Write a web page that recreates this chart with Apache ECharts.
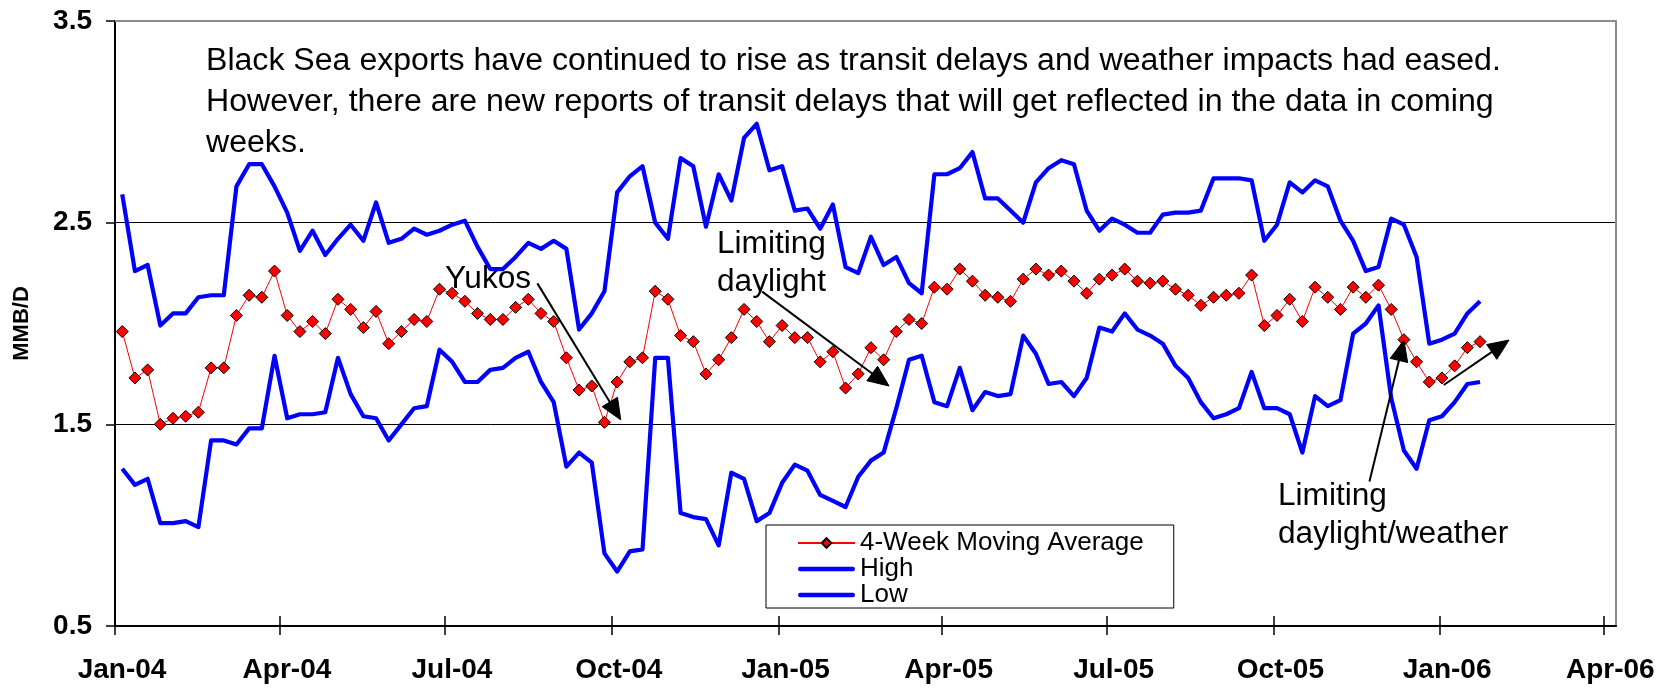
<!DOCTYPE html>
<html>
<head>
<meta charset="utf-8">
<script src="https://cdn.jsdelivr.net/npm/echarts@6/dist/echarts.min.js"></script>
<style>
html,body{margin:0;padding:0;background:#fff;}
#chart{width:1671px;height:690px;}
</style>
</head>
<body>
<div id="chart"></div>
<script>
// ---------- data ----------
const weekDates = [
'2004-01-05','2004-01-12','2004-01-19','2004-01-26','2004-02-02','2004-02-09','2004-02-16','2004-02-23',
'2004-03-01','2004-03-08','2004-03-15','2004-03-22','2004-03-29','2004-04-05','2004-04-12','2004-04-19',
'2004-04-26','2004-05-03','2004-05-10','2004-05-17','2004-05-24','2004-05-31','2004-06-07','2004-06-14',
'2004-06-21','2004-06-28','2004-07-05','2004-07-12','2004-07-19','2004-07-26','2004-08-02','2004-08-09',
'2004-08-16','2004-08-23','2004-08-30','2004-09-06','2004-09-13','2004-09-20','2004-09-27','2004-10-04',
'2004-10-11','2004-10-18','2004-10-25','2004-11-01','2004-11-08','2004-11-15','2004-11-22','2004-11-29',
'2004-12-06','2004-12-13','2004-12-20','2004-12-27','2005-01-03','2005-01-10','2005-01-17','2005-01-24',
'2005-01-31','2005-02-07','2005-02-14','2005-02-21','2005-02-28','2005-03-07','2005-03-14','2005-03-21',
'2005-03-28','2005-04-04','2005-04-11','2005-04-18','2005-04-25','2005-05-02','2005-05-09','2005-05-16',
'2005-05-23','2005-05-30','2005-06-06','2005-06-13','2005-06-20','2005-06-27','2005-07-04','2005-07-11',
'2005-07-18','2005-07-25','2005-08-01','2005-08-08','2005-08-15','2005-08-22','2005-08-29','2005-09-05',
'2005-09-12','2005-09-19','2005-09-26','2005-10-03','2005-10-10','2005-10-17','2005-10-24','2005-10-31',
'2005-11-07','2005-11-14','2005-11-21','2005-11-28','2005-12-05','2005-12-12','2005-12-19','2005-12-26',
'2006-01-02','2006-01-09','2006-01-16','2006-01-23'
];

const movingAverage = [
1.96,1.73,1.77,1.50,1.53,1.54,1.56,1.78,1.78,2.04,
2.14,2.13,2.26,2.04,1.96,2.01,1.95,2.12,2.07,1.98,
2.06,1.90,1.96,2.02,2.01,2.17,2.15,2.11,2.05,2.02,
2.02,2.08,2.12,2.05,2.01,1.83,1.67,1.69,1.51,1.71,
1.81,1.83,2.16,2.12,1.94,1.91,1.75,1.82,1.93,2.07,
2.01,1.91,1.99,1.93,1.93,1.81,1.86,1.68,1.75,1.88,
1.82,1.96,2.02,2.00,2.18,2.17,2.27,2.21,2.14,2.13,
2.11,2.22,2.27,2.24,2.26,2.21,2.15,2.22,2.24,2.27,
2.21,2.20,2.21,2.17,2.14,2.09,2.13,2.14,2.15,2.24,
1.99,2.04,2.12,2.01,2.18,2.13,2.07,2.18,2.13,2.19,
2.07,1.92,1.81,1.71,1.73,1.79,1.88,1.91
];

const highValues = [
2.64,2.26,2.29,1.99,2.05,2.05,2.13,2.14,2.14,2.68,
2.79,2.79,2.68,2.55,2.36,2.46,2.34,2.42,2.49,2.41,
2.60,2.40,2.42,2.47,2.44,2.46,2.49,2.51,2.38,2.27,
2.27,2.33,2.40,2.37,2.41,2.37,1.97,2.05,2.16,2.65,
2.73,2.78,2.50,2.42,2.82,2.78,2.48,2.74,2.61,2.92,
2.99,2.76,2.78,2.56,2.57,2.47,2.59,2.28,2.25,2.43,
2.29,2.33,2.20,2.15,2.74,2.74,2.77,2.85,2.62,2.62,
2.56,2.50,2.70,2.77,2.81,2.79,2.56,2.46,2.52,2.49,
2.45,2.45,2.54,2.55,2.55,2.56,2.72,2.72,2.72,2.71,
2.41,2.49,2.70,2.65,2.71,2.68,2.51,2.41,2.26,2.28,
2.52,2.49,2.33,1.90,1.92,1.95,2.05,2.11
];

const lowValues = [
1.28,1.20,1.23,1.01,1.01,1.02,0.99,1.42,1.42,1.40,
1.48,1.48,1.84,1.53,1.55,1.55,1.56,1.83,1.65,1.54,
1.53,1.42,1.50,1.58,1.59,1.87,1.81,1.71,1.71,1.77,
1.78,1.83,1.86,1.71,1.61,1.29,1.36,1.31,0.86,0.77,
0.87,0.88,1.83,1.83,1.06,1.04,1.03,0.90,1.26,1.23,
1.02,1.06,1.21,1.30,1.27,1.15,1.12,1.09,1.24,1.32,
1.36,1.58,1.82,1.84,1.61,1.59,1.78,1.57,1.66,1.64,
1.65,1.94,1.85,1.70,1.71,1.64,1.73,1.98,1.96,2.05,
1.97,1.94,1.90,1.79,1.73,1.61,1.53,1.55,1.58,1.76,
1.58,1.58,1.55,1.36,1.64,1.59,1.62,1.95,2.00,2.09,
1.63,1.37,1.28,1.52,1.54,1.61,1.70,1.71
];

const seriesNames = ['4-Week Moving Average', 'High', 'Low'];
const tickDates = ['2004-01-01','2004-04-01','2004-07-01','2004-10-01','2005-01-01',
                   '2005-04-01','2005-07-01','2005-10-01','2006-01-01','2006-04-01'];
const tickLabels = ['Jan-04','Apr-04','Jul-04','Oct-04','Jan-05','Apr-05','Jul-05','Oct-05','Jan-06','Apr-06'];
const axisStart = '2004-01-01';
const axisEnd = '2006-04-08';
const yMin = 0.5, yMax = 3.5, yStep = 1;
const yAxisTitle = 'MMB/D';

const noteLines = [
  'Black Sea exports have continued to rise as transit delays and weather impacts had eased.',
  'However, there are new reports of transit delays that will get reflected in the data in coming',
  'weeks.'
];
// annotation arrows anchored in data space: [date, value]
const annotationArrows = [
  { from: ['2004-08-21', 2.199], to: ['2004-10-06', 1.522] },
  { from: ['2004-12-23', 2.158], to: ['2005-03-03', 1.690] },
  { from: ['2005-11-23', 1.216], to: ['2005-12-12', 1.918] },
  { from: ['2006-01-03', 1.695], to: ['2006-02-08', 1.918] }
];
const annotationLabels = [
  { text: 'Yukos', x: 445, baseline: 290, lineHeight: 31 },
  { text: 'Limiting\ndaylight', x: 717, baseline: 255, lineHeight: 38 },
  { text: 'Limiting\ndaylight/weather', x: 1278, baseline: 507, lineHeight: 38 }
];

// ---------- helpers ----------
function toTime(s) {
  const p = s.split('-').map(Number);
  return Date.UTC(p[0], p[1] - 1, p[2]);
}
const weekTimes = weekDates.map(toTime);
const tickTimes = tickDates.map(toTime);
const FONT = '"Liberation Sans", Arial, Helvetica, sans-serif';
const THICK_LINE_ICON = 'path://M2,0 L55,0 A2.25,2.25 0 0 1 55,4.5 L2,4.5 A2.25,2.25 0 0 1 2,0 Z';

function tickLabelFor(v) {
  let best = -1, bestD = Infinity;
  tickTimes.forEach((t, i) => { const d = Math.abs(t - v); if (d < bestD) { bestD = d; best = i; } });
  return bestD < 86400000 ? tickLabels[best] : '';
}

const chart = echarts.init(document.getElementById('chart'), null, { renderer: 'canvas' });

const xMin = toTime(axisStart), xMax = toTime(axisEnd);

const option = {
  animation: false,
  backgroundColor: '#ffffff',
  textStyle: { fontFamily: FONT, color: '#000' },
  grid: { left: 115, right: 55, top: 21, bottom: 64, containLabel: false },
  legend: {
    data: [
      { name: seriesNames[0] },
      { name: seriesNames[1], icon: THICK_LINE_ICON },
      { name: seriesNames[2], icon: THICK_LINE_ICON }
    ],
    orient: 'vertical',
    left: 766,
    top: 525,
    padding: [5, 30, 0, 31],
    itemGap: 0,
    itemWidth: 57,
    itemHeight: 12,
    symbolKeepAspect: true,
    borderColor: '#000',
    borderWidth: 1,
    backgroundColor: '#fff',
    textStyle: { fontSize: 26, color: '#000', fontFamily: FONT, lineHeight: 26 }
  },
  xAxis: [
    {
      type: 'value',
      min: xMin, max: xMax,
      axisLine: { show: true, onZero: false, lineStyle: { color: '#000', width: 2 } },
      axisTick: { show: true, customValues: tickTimes, length: 9, lineStyle: { color: '#000', width: 1.5 } },
      axisLabel: {
        customValues: tickTimes,
        formatter: tickLabelFor,
        fontSize: 28, fontWeight: 'bold', color: '#000', fontFamily: FONT,
        margin: 30, padding: [0, 0, 0, 14]
      },
      splitLine: { show: false }
    },
    {
      type: 'value',
      min: xMin, max: xMax,
      position: 'bottom',
      axisLine: { show: false, onZero: false },
      axisTick: { show: true, inside: true, customValues: tickTimes, length: 10, lineStyle: { color: '#000', width: 1.5 } },
      axisLabel: { show: false },
      splitLine: { show: false }
    },
    {
      type: 'value',
      min: xMin, max: xMax,
      position: 'top',
      axisLine: { show: true, onZero: false, lineStyle: { color: '#8c8c8c', width: 2 } },
      axisTick: { show: false },
      axisLabel: { show: false },
      splitLine: { show: false }
    }
  ],
  yAxis: [
    {
      type: 'value',
      min: yMin, max: yMax, interval: yStep,
      name: yAxisTitle,
      nameLocation: 'middle',
      nameGap: 82,
      nameTextStyle: { fontSize: 22, fontWeight: 'bold', color: '#000', fontFamily: FONT },
      axisLine: { show: true, lineStyle: { color: '#000', width: 2 } },
      axisTick: { show: true, length: 9, lineStyle: { color: '#000', width: 1.5 } },
      axisLabel: {
        fontSize: 28, fontWeight: 'bold', color: '#000', fontFamily: FONT, margin: 23,
        formatter: function (v) { return v.toFixed(1); }
      },
      splitLine: { show: true, showMinLine: false, showMaxLine: false, lineStyle: { color: '#000', width: 1 } }
    },
    {
      type: 'value',
      min: yMin, max: yMax,
      position: 'right',
      axisLine: { show: true, lineStyle: { color: '#8c8c8c', width: 2 } },
      axisTick: { show: false },
      axisLabel: { show: false },
      splitLine: { show: false }
    }
  ],
  series: [
    {
      name: seriesNames[0],
      type: 'line',
      xAxisIndex: 0, yAxisIndex: 0,
      data: weekTimes.map((t, i) => [t, movingAverage[i]]),
      symbol: 'diamond',
      symbolSize: 12,
      showAllSymbol: true,
      lineStyle: { color: '#ff0000', width: 1 },
      itemStyle: { color: '#ff0000', borderColor: '#000', borderWidth: 1 },
      z: 4
    },
    {
      name: seriesNames[1],
      type: 'line',
      xAxisIndex: 0, yAxisIndex: 0,
      data: weekTimes.map((t, i) => [t, highValues[i]]),
      symbol: 'none',
      lineStyle: { color: '#0000ff', width: 4.2, join: 'round' },
      itemStyle: { color: '#0000ff' },
      z: 3
    },
    {
      name: seriesNames[2],
      type: 'line',
      xAxisIndex: 0, yAxisIndex: 0,
      data: weekTimes.map((t, i) => [t, lowValues[i]]),
      symbol: 'none',
      lineStyle: { color: '#0000ff', width: 4.2, join: 'round' },
      itemStyle: { color: '#0000ff' },
      z: 3
    }
  ]
};

chart.setOption(option);

// ---------- annotations (text boxes and arrows) ----------
function buildGraphics() {
  const els = [];
  const fs = 31;
  const sx = 1.035;
  const noteLH = 41;
  els.push({
    type: 'text', z: 10,
    x: 206, y: 72.7 - (noteLH / 2 + 0.35 * fs), scaleX: sx,
    style: { text: noteLines.join('\n'), fontSize: fs, fontFamily: FONT, fill: '#000', lineHeight: noteLH, verticalAlign: 'top', align: 'left' }
  });
  annotationLabels.forEach(a => {
    els.push({
      type: 'text', z: 10,
      x: a.x, y: a.baseline - (a.lineHeight / 2 + 0.35 * fs), scaleX: 1.02,
      style: { text: a.text, fontSize: fs, fontFamily: FONT, fill: '#000', lineHeight: a.lineHeight, verticalAlign: 'top', align: 'left' }
    });
  });
  annotationArrows.forEach(a => {
    const p0 = chart.convertToPixel({ xAxisIndex: 0, yAxisIndex: 0 }, [toTime(a.from[0]), a.from[1]]);
    const p1 = chart.convertToPixel({ xAxisIndex: 0, yAxisIndex: 0 }, [toTime(a.to[0]), a.to[1]]);
    const dx = p1[0] - p0[0], dy = p1[1] - p0[1];
    const len = Math.sqrt(dx * dx + dy * dy);
    const ux = dx / len, uy = dy / len;
    const nx = -uy, ny = ux;
    const L = 21, W = 9;
    const bx = p1[0] - ux * L, by = p1[1] - uy * L;
    els.push({
      type: 'line', z: 11,
      shape: { x1: p0[0], y1: p0[1], x2: bx + ux * 2, y2: by + uy * 2 },
      style: { stroke: '#000', lineWidth: 2 }
    });
    els.push({
      type: 'polygon', z: 11,
      shape: { points: [[p1[0], p1[1]], [bx + nx * W, by + ny * W], [bx - nx * W, by - ny * W]] },
      style: { fill: '#000', stroke: '#000', lineWidth: 1 }
    });
  });
  return els;
}
chart.setOption({ graphic: buildGraphics() });
</script>
</body>
</html>
